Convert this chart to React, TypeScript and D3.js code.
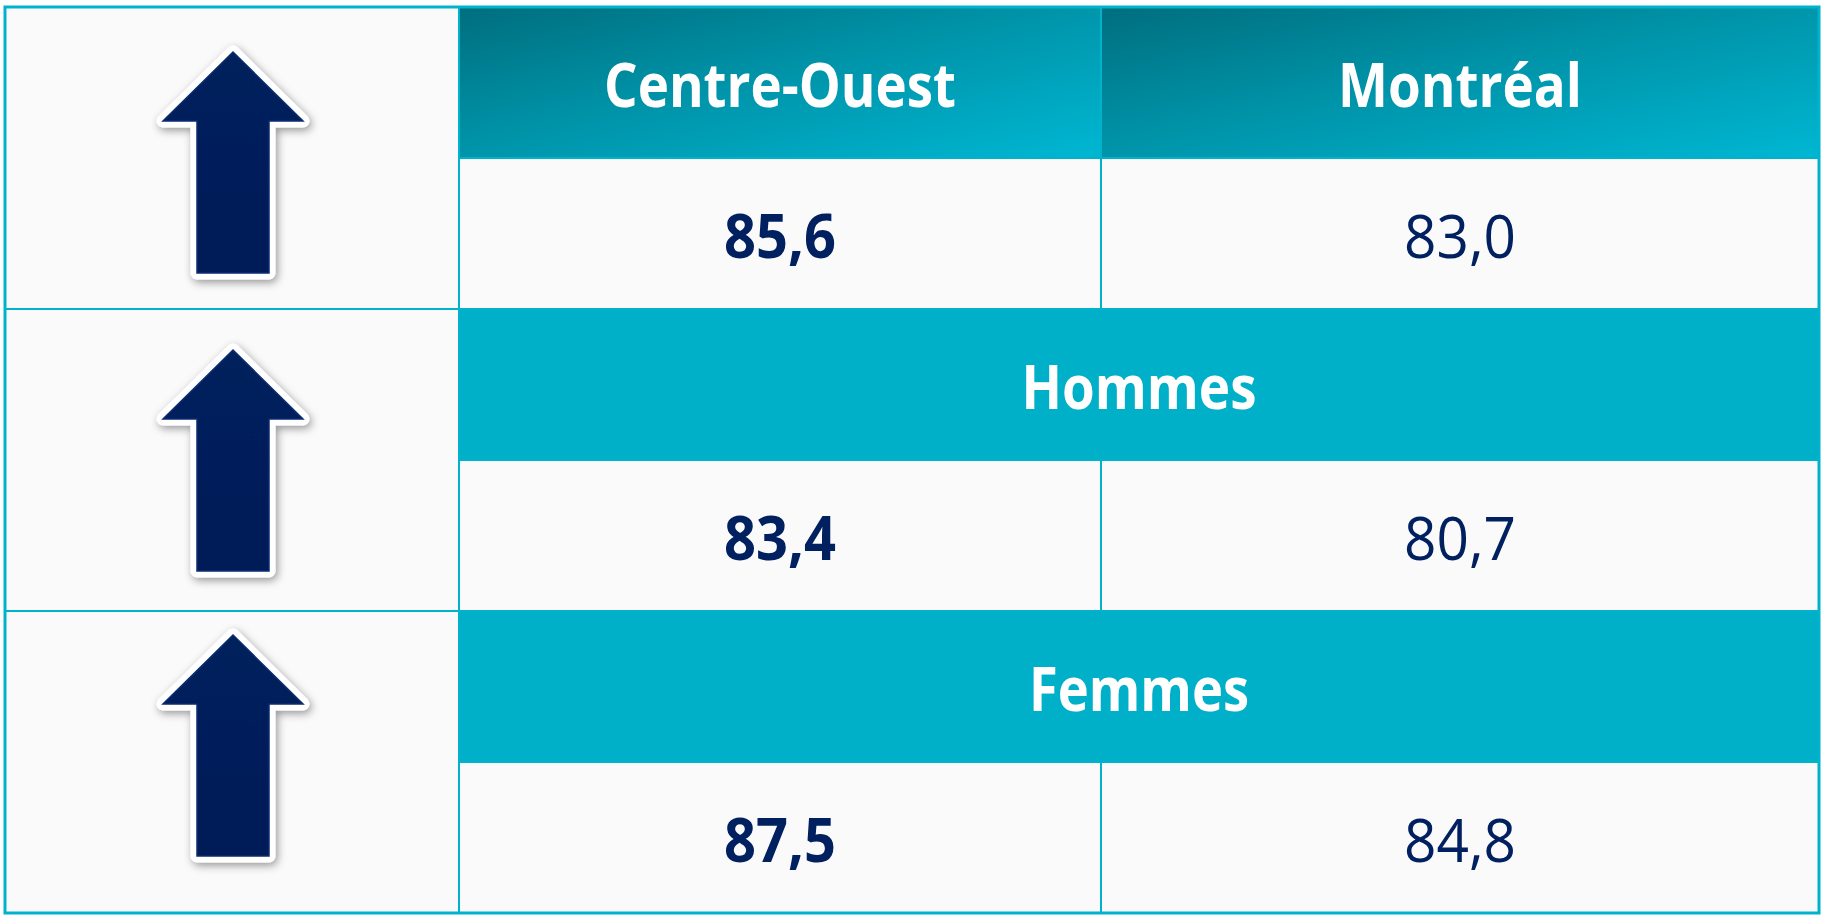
import React from "react";
import * as d3 from "d3";

// ---- Data ----
const columnLabels = ["Centre-Ouest", "Montréal"];
const groupLabels = ["", "Hommes", "Femmes"]; // first group uses the column header row
const centreOuestValues = [85.6, 83.4, 87.5];
const montrealValues = [83.0, 80.7, 84.8];
const trendDirection = ["up", "up", "up"];

// ---- Layout / style ----
const W = 1825;
const H = 916;
const colEdges = [5, 459, 1101, 1819];
const TOP = 7;
const BOTTOM = 913;
const arrowTipOffset = [45, 41, 24]; // from top of each group
const arrowCx = 233;
const TEXT_W: Record<string, number> = {
  "Centre-Ouest": 352,
  "Montréal": 244,
  Hommes: 235,
  Femmes: 220,
};
const NUM_W = 112;
const BORDER = "#00B2CB";
const SUB_FILL = "#00AFC8";
const CELL_FILL = "#FAFAFA";
const NAVY = "#002060";
const FONT = "'Open Sans', 'Noto Sans', sans-serif";
const FS = 60;

const fr = d3.formatLocale({ decimal: ",", thousands: " ", grouping: [3], currency: ["", " $"] });
const fmt = fr.format(".1f");

export default function App() {
  const bands = d3.range(6);
  const y = d3.scaleBand<number>().domain(bands).range([TOP, BOTTOM]).padding(0);
  const bh = y.bandwidth();
  const x = (i: number) => colEdges[i];

  // arrow shape relative to tip
  const headH = 69, headHalf = 70, shaftHalf = 36, len = 221;
  const arrowPath = (cx: number, ty: number) =>
    d3.line()([
      [cx, ty],
      [cx + headHalf, ty + headH],
      [cx + shaftHalf, ty + headH],
      [cx + shaftHalf, ty + len],
      [cx - shaftHalf, ty + len],
      [cx - shaftHalf, ty + headH],
      [cx - headHalf, ty + headH],
    ]) + "Z";

  const textBaseline = (b: number) => (y(b) as number) + bh / 2 + 24.5;

  return (
    <svg
      width={W}
      height={H}
      style={{ position: "absolute", left: 0, top: 0, background: "#fff" }}
    >
      <defs>
        {columnLabels.map((_, i) => (
          <linearGradient key={i} id={`hdr${i}`} x1="0" y1="0" x2="1" y2="1">
            <stop offset="0" stopColor="#006E7E" />
            <stop offset="0.45" stopColor="#0092A7" />
            <stop offset="1" stopColor="#00B7D3" />
          </linearGradient>
        ))}
        <filter id="shadow" x="-30%" y="-20%" width="160%" height="140%">
          <feDropShadow dx="2" dy="3" stdDeviation="4" floodColor="#000" floodOpacity="0.4" />
        </filter>
        <linearGradient id="arrowFill" x1="0" y1="0" x2="0" y2="1">
          <stop offset="0" stopColor="#00205C" />
          <stop offset="1" stopColor="#001E58" />
        </linearGradient>
      </defs>

      <rect x={0} y={0} width={W} height={H} fill="#fff" />

      {/* Left column: merged cells with arrows */}
      {groupLabels.map((_, g) => {
        const y0 = y(g * 2) as number;
        return (
          <g key={`left${g}`}>
            <rect x={x(0)} y={y0} width={x(1) - x(0)} height={bh * 2} fill={CELL_FILL} stroke={BORDER} strokeWidth={2} />
            {trendDirection[g] === "up" && (
              <g filter="url(#shadow)">
                <path
                  d={arrowPath(arrowCx, y0 + arrowTipOffset[g])}
                  fill="url(#arrowFill)"
                  stroke="#FFFFFF"
                  strokeWidth={13}
                  strokeLinejoin="round"
                  paintOrder="stroke"
                />
              </g>
            )}
            {trendDirection[g] === "up" && (
              <path
                d={arrowPath(arrowCx, y0 + arrowTipOffset[g])}
                fill="none"
                stroke="#0B2D70"
                strokeWidth={1.5}
                strokeLinejoin="miter"
              />
            )}
          </g>
        );
      })}

      {/* Header row: column names */}
      {columnLabels.map((lab, i) => (
        <g key={`hdr${i}`}>
          <rect x={x(i + 1)} y={y(0)} width={x(i + 2) - x(i + 1)} height={bh} fill={`url(#hdr${i})`} stroke={BORDER} strokeWidth={2} />
          <text
            x={(x(i + 1) + x(i + 2)) / 2}
            y={textBaseline(0)}
            textAnchor="middle"
            fontFamily={FONT}
            fontWeight={700}
            fontSize={FS}
            fill="#fff"
            textLength={TEXT_W[lab]}
            lengthAdjust="spacingAndGlyphs"
          >
            {lab}
          </text>
        </g>
      ))}

      {/* Sub-header rows */}
      {groupLabels.map((lab, g) =>
        g === 0 ? null : (
          <g key={`sub${g}`}>
            <rect x={x(1)} y={y(g * 2)} width={x(3) - x(1)} height={bh} fill={SUB_FILL} stroke={BORDER} strokeWidth={2} />
            <text
              x={(x(1) + x(3)) / 2}
              y={textBaseline(g * 2)}
              textAnchor="middle"
              fontFamily={FONT}
              fontWeight={700}
              fontSize={FS}
              fill="#fff"
              textLength={TEXT_W[lab]}
              lengthAdjust="spacingAndGlyphs"
            >
              {lab}
            </text>
          </g>
        )
      )}

      {/* Value rows */}
      {groupLabels.map((_, g) => {
        const b = g * 2 + 1;
        const vals = [centreOuestValues[g], montrealValues[g]];
        return (
          <g key={`val${g}`}>
            {vals.map((v, i) => (
              <g key={i}>
                <rect x={x(i + 1)} y={y(b)} width={x(i + 2) - x(i + 1)} height={bh} fill={CELL_FILL} stroke={BORDER} strokeWidth={2} />
                <text
                  x={(x(i + 1) + x(i + 2)) / 2}
                  y={textBaseline(b)}
                  textAnchor="middle"
                  fontFamily={FONT}
                  fontWeight={i === 0 ? 700 : 400}
                  fontSize={FS}
                  fill={NAVY}
                  textLength={NUM_W}
                  lengthAdjust="spacingAndGlyphs"
                >
                  {fmt(v)}
                </text>
              </g>
            ))}
          </g>
        );
      })}

      {/* Outer border */}
      <rect x={x(0)} y={TOP} width={x(3) - x(0)} height={BOTTOM - TOP} fill="none" stroke={BORDER} strokeWidth={3} />
    </svg>
  );
}
